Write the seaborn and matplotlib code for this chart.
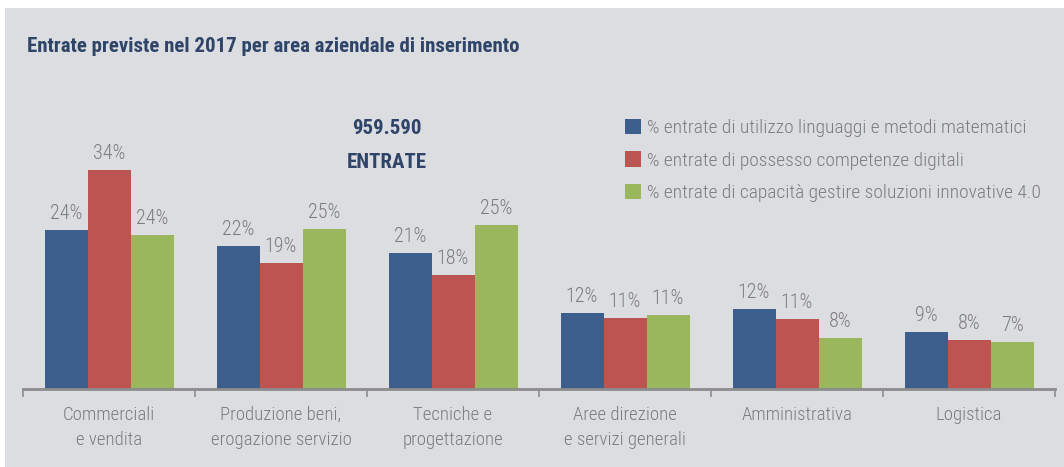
import matplotlib
matplotlib.use("Agg")
import matplotlib.pyplot as plt
import matplotlib.patches as mpatches
import seaborn as sns
import pandas as pd
import numpy as np

categories = ["Commerciali\ne vendita", "Produzione beni,\nerogazione servizio",
              "Tecniche e\nprogettazione", "Aree direzione\ne servizi generali",
              "Amministrativa", "Logistica"]
series = ["% entrate di utilizzo linguaggi e metodi matematici",
          "% entrate di possesso competenze digitali",
          "% entrate di capacità gestire soluzioni innovative 4.0"]
matematici = [24.4, 22.0, 20.9, 11.7, 12.3, 8.8]
digitali = [33.7, 19.4, 17.6, 11.0, 10.8, 7.6]
innovative = [23.7, 24.6, 25.2, 11.4, 7.9, 7.2]
colors = ["#3b5e8c", "#bc5452", "#9bb75d"]

title = "Entrate previste nel 2017 per area aziendale di inserimento"
total_lines = ["959.590", "ENTRATE"]

sns.set_theme(style="white")
FONT = ["Roboto Condensed", "DejaVu Sans"]
plt.rcParams["font.family"] = FONT

rows = []
for s, vals in zip(series, [matematici, digitali, innovative]):
    for c, v in zip(categories, vals):
        rows.append({"cat": c, "series": s, "val": v})
df = pd.DataFrame(rows)

W, H = 1064, 467
GRAY_TXT = "#7c7c7c"
NAVY = "#2e4468"
fig = plt.figure(figsize=(W / 100, H / 100), dpi=100, facecolor="white")
bg = mpatches.Rectangle((5 / W, 0), 1 - 5 / W, 1 - 8 / H, transform=fig.transFigure,
                        facecolor="#dcdde0", edgecolor="none", zorder=-10)
fig.patches.append(bg)

ax_left, ax_right = 23 / W, 1055 / W
ax_bottom = (H - 389) / H
ax_top_px = 80
ax = fig.add_axes([ax_left, ax_bottom, ax_right - ax_left, (389 - ax_top_px) / H])
ax.set_facecolor("none")

sns.barplot(data=df, x="cat", y="val", hue="series", palette=colors, width=0.75,
            saturation=1, ax=ax, legend=False, edgecolor="none", linewidth=0)

ax.set_xlim(-0.5, len(categories) - 0.5)
ax.set_ylim(0, (389 - ax_top_px) / 6.5)
ax.set_xlabel("")
ax.set_ylabel("")
ax.set_yticks([])
for sp in ["top", "right", "left"]:
    ax.spines[sp].set_visible(False)
ax.spines["bottom"].set_color("#8c8c8c")
ax.spines["bottom"].set_linewidth(2)

ax.set_xticks(range(len(categories)))
ax.set_xticklabels(categories, fontsize=13.5, color=GRAY_TXT, linespacing=1.5,
                   fontweight="light")
ax.tick_params(axis="x", which="major", length=0, pad=12)
ax.set_xticks(np.arange(-0.5, len(categories)), minor=True)
ax.tick_params(axis="x", which="minor", length=6, width=1.2, color="#8c8c8c",
               direction="out", bottom=True)

for cont in ax.containers:
    ax.bar_label(cont, labels=[f"{b.get_height():.0f}%" for b in cont],
                 padding=5, fontsize=14.5, color=GRAY_TXT, fontweight="light")

fig.text(27 / W, 1 - 47 / H, title, fontsize=15, fontweight="bold",
         color=NAVY, ha="left", va="center")
fig.text(387 / W, 1 - 128 / H, total_lines[0], fontsize=15, fontweight="bold",
         color=NAVY, ha="center", va="center")
fig.text(387 / W, 1 - 162 / H, total_lines[1], fontsize=15, fontweight="bold",
         color=NAVY, ha="center", va="center")

handles = [mpatches.Patch(facecolor=c, edgecolor="none", label=s) for c, s in zip(colors, series)]
leg = fig.legend(handles=handles, loc="upper left", bbox_to_anchor=(615 / W, 1 - 109 / H),
                 frameon=False, handlelength=0.85, handleheight=0.85,
                 handletextpad=0.3, labelspacing=0.72, borderpad=0,
                 prop={"weight": "light", "size": 14})
for t in leg.get_texts():
    t.set_color(GRAY_TXT)

fig.savefig("out.png", dpi=100, facecolor="white")
